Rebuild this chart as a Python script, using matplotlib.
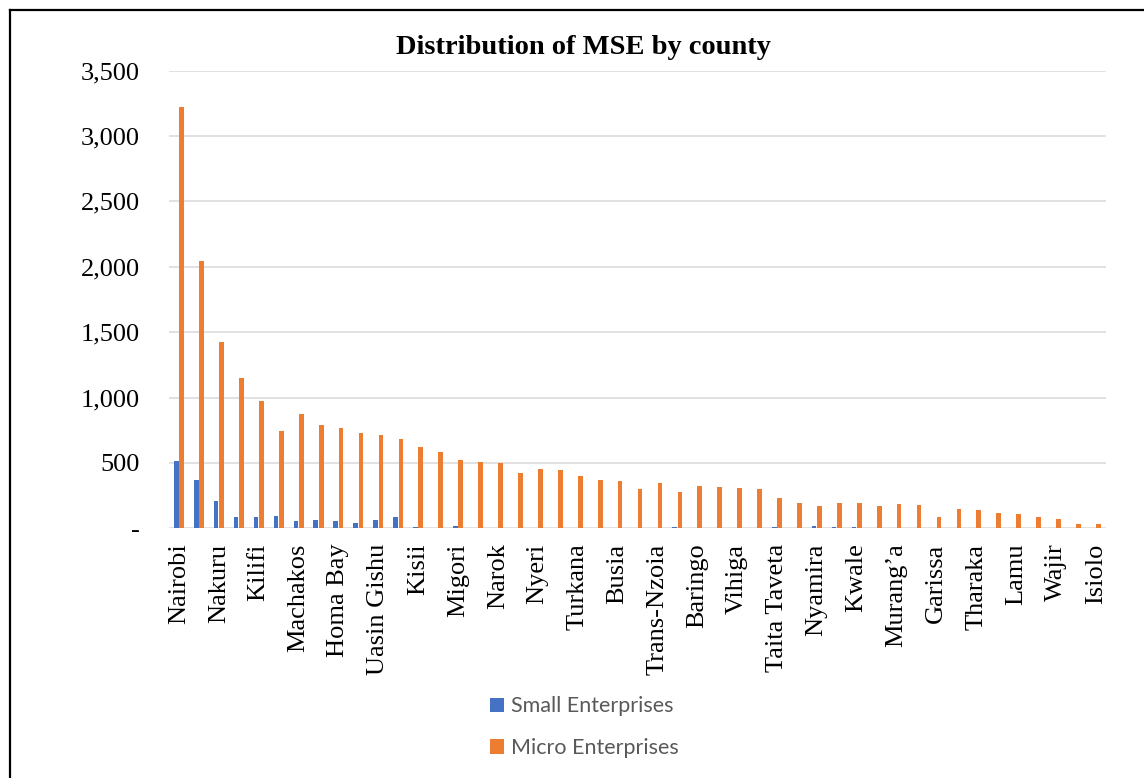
import matplotlib
matplotlib.use('Agg')
import matplotlib.pyplot as plt
from matplotlib.lines import Line2D
from matplotlib.ticker import FuncFormatter
import numpy as np

# 47 counties, every second one is labelled on the axis
counties = ['Nairobi', 'Mombasa', 'Nakuru', 'Kiambu', 'Kilifi', 'Kisumu', 'Machakos', 'Meru',
            'Homa Bay', 'Kakamega', 'Uasin Gishu', 'Bungoma', 'Kisii', 'Kajiado', 'Migori',
            'Kericho', 'Narok', 'Nandi', 'Nyeri', 'Embu', 'Turkana', 'Kitui', 'Busia', 'Siaya',
            'Trans-Nzoia', 'Makueni', 'Baringo', 'Kirinyaga', 'Vihiga', 'Laikipia', 'Taita Taveta',
            'Nyandarua', 'Nyamira', 'Bomet', 'Kwale', 'Elgeyo-Marakwet', 'Murang\u2019a',
            'West Pokot', 'Garissa', 'Samburu', 'Tharaka', 'Marsabit', 'Lamu', 'Tana River',
            'Wajir', 'Mandera', 'Isiolo']
small = [517, 367, 211, 89, 84, 92, 56, 64, 54, 43, 61, 84, 10, 4, 18,
         0, 0, 2, 0, 1, 0, 1, 0, 6, 0, 10, 1, 6, 0, 1, 9,
         6, 14, 7, 10, 6, 2, 1, 0, 0, 0, 0, 0, 0, 0, 0, 0]
micro = [3222, 2043, 1428, 1153, 972, 745, 875, 793, 765, 727, 714, 686, 625, 584, 523,
         508, 497, 426, 452, 444, 400, 367, 360, 304, 344, 281, 324, 319, 306, 298, 230,
         196, 171, 196, 194, 171, 184, 176, 84, 150, 138, 117, 107, 84, 74, 36, 31]
yticks = [0, 500, 1000, 1500, 2000, 2500, 3000, 3500]

W, H = 1144, 778
fig = plt.figure(figsize=(W / 100, H / 100), dpi=100)
ax = fig.add_axes([169 / W, 1 - 528.3 / H, (1105.7 - 169) / W, (528.3 - 70.7) / H])

x = np.arange(len(counties))
bw = 0.236
b1 = ax.bar(x - 0.135, small, bw, color='#4472C4', label='Small Enterprises', zorder=3)
b2 = ax.bar(x + 0.135, micro, bw, color='#ED7D31', label='Micro Enterprises', zorder=3)

ax.set_xlim(-0.5, len(counties) - 0.5)
ax.set_ylim(0, 3500)
ax.set_yticks(yticks)
ax.yaxis.set_major_formatter(FuncFormatter(lambda v, p: '-' if v == 0 else f'{int(v):,}'))
ax.set_xticks(x[::2])
ax.set_xticklabels(counties[::2], rotation=90)
ax.grid(axis='y', color='#D9D9D9', linewidth=1.1, zorder=0)
for s in ax.spines.values():
    s.set_visible(False)
ax.tick_params(axis='both', length=0, labelsize=19)
ax.tick_params(axis='y', pad=21)
ax.tick_params(axis='x', pad=11)
for lab in ax.get_xticklabels() + ax.get_yticklabels():
    lab.set_family('Liberation Serif')

fig.text(583 / W, 1 - 47 / H, 'Distribution of MSE by county', ha='center', va='center',
         fontsize=20.5, fontweight='bold', family='Liberation Serif')

fig.legend(handles=[b1, b2], loc='upper left', bbox_to_anchor=(471 / W, 1 - 677 / H),
           frameon=False, handlelength=0.65, handleheight=0.65, handletextpad=0.3,
           labelspacing=1.0, prop={'family': 'Lato', 'size': 15.5}, labelcolor='#595959')

# chart border (top and left edges visible)
fig.add_artist(Line2D([9.5 / W, 9.5 / W], [0, 1 - 9.5 / H], transform=fig.transFigure,
                      color='black', linewidth=1.6))
fig.add_artist(Line2D([9.5 / W, 1], [1 - 9.5 / H, 1 - 9.5 / H], transform=fig.transFigure,
                      color='black', linewidth=1.6))

plt.savefig('out.png', dpi=100)
plt.close()
